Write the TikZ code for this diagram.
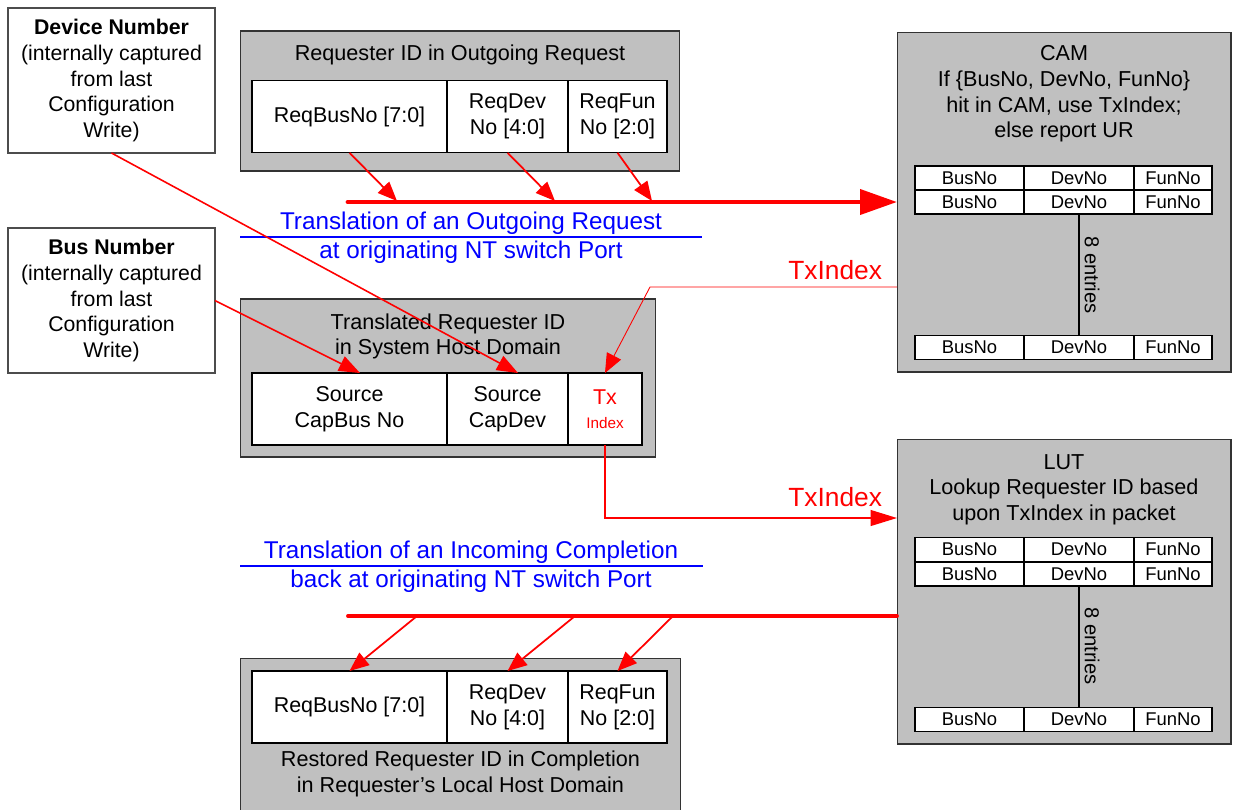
\documentclass[tikz,border=0pt]{standalone}
\usepackage{fontspec}
\setmainfont{Liberation Sans}
\usetikzlibrary{arrows.meta}
\definecolor{boxgray}{HTML}{C0C0C0}
\newcommand{\fsz}[2]{\fontsize{#1}{#2}\selectfont}

\begin{document}
\begin{tikzpicture}[x=0.02cm,y=-0.02cm,
  every node/.style={inner sep=0pt,outer sep=0pt,align=center},
  infobox/.style={draw=black!70,fill=white,line width=0.6pt,minimum width=4.14cm,minimum height=2.9cm,font=\fsz{12.1}{14.75}},
  idbox/.style={draw=black!80,fill=boxgray,line width=0.6pt},
  idcell/.style={draw=black,fill=white,line width=0.6pt,minimum height=1.45cm,font=\fsz{12.2}{14.75}},
  camcell/.style={draw=black,fill=white,line width=0.6pt,minimum height=0.48cm,font=\fsz{10.5}{12}},
  boxtitle/.style={font=\fsz{12.3}{14.6}},
  bluenote/.style={text=blue,font=\fsz{13.8}{16.4}},
  redlabel/.style={text=red,font=\fsz{15}{18},anchor=east},
  busline/.style={draw=red,line width=2.8pt,line cap=round},
  tap/.style={draw=red,line width=1pt,-{Triangle[length=11pt,width=9pt]}},
  feed/.style={draw=red,line width=0.9pt,-{Triangle[length=12pt,width=9pt]}},
  txline/.style={draw=red,line width=0.5pt,-{Triangle[length=11pt,width=9pt]}}]
\useasboundingbox (0,0) rectangle (1233,809);

% captured numbers
\node[infobox] (devnum) at (111.5,80.5) {\textbf{Device Number}\\(internally captured\\from last\\Configuration\\Write)};
\node[infobox] (busnum) at (111.5,300.5) {\textbf{Bus Number}\\(internally captured\\from last\\Configuration\\Write)};

% requester ID in outgoing request
\node[idbox,minimum width=8.8cm,minimum height=2.8cm] (outreq) at (460,101) {};
\node[boxtitle] (outreqtitle) at (460,55) {Requester ID in Outgoing Request};
\node[idcell,minimum width=3.9cm] (oq1) at (349.5,116.5) {ReqBusNo [7:0]};
\node[idcell,minimum width=2.42cm] (oq2) at (507.5,116.5) {ReqDev\\No [4:0]};
\node[idcell,minimum width=1.98cm] (oq3) at (617.5,116.5) {ReqFun\\No [2:0]};

% translated requester ID
\node[idbox,minimum width=8.32cm,minimum height=3.16cm] (trans) at (448,378) {};
\node[boxtitle] (transtitle) at (448,336.5) {Translated Requester ID\\in System Host Domain};
\node[idcell,minimum width=3.9cm,minimum height=1.44cm] (tr1) at (349.5,409) {Source\\CapBus No};
\node[idcell,minimum width=2.42cm,minimum height=1.44cm] (tr2) at (507.5,409) {Source\\CapDev};
\node[idcell,minimum width=1.48cm,minimum height=1.44cm,text=red,font=\fsz{12.2}{13.6}] (tr3) at (605,409) {Tx\\{\fsz{8.7}{13.6}Index}};

% restored requester ID
\node[idbox,minimum width=8.82cm,minimum height=3.08cm] (restored) at (460.5,735) {};
\node[idcell,minimum width=3.9cm,minimum height=1.44cm] (rb1) at (349.5,707) {ReqBusNo [7:0]};
\node[idcell,minimum width=2.42cm,minimum height=1.44cm] (rb2) at (507.5,707) {ReqDev\\No [4:0]};
\node[idcell,minimum width=1.98cm,minimum height=1.44cm] (rb3) at (617.5,707) {ReqFun\\No [2:0]};
\node[boxtitle] (restoredtitle) at (460.5,774) {Restored Requester ID in Completion\\in Requester's Local Host Domain};

% CAM
\node[idbox,minimum width=6.68cm,minimum height=6.8cm] (cam) at (1064,202) {};
\node[boxtitle] (camtitle) at (1064,94) {CAM\\If \{BusNo, DevNo, FunNo\}\\hit in CAM, use TxIndex;\\else report UR};
\node[camcell,minimum width=2.18cm] (cama1) at (969.5,178) {BusNo};
\node[camcell,minimum width=2.2cm] (cama2) at (1079,178) {DevNo};
\node[camcell,minimum width=1.56cm] (cama3) at (1173,178) {FunNo};
\node[camcell,minimum width=2.18cm] (camb1) at (969.5,202) {BusNo};
\node[camcell,minimum width=2.2cm] (camb2) at (1079,202) {DevNo};
\node[camcell,minimum width=1.56cm] (camb3) at (1173,202) {FunNo};
\node[camcell,minimum width=2.18cm] (camc1) at (969.5,347.5) {BusNo};
\node[camcell,minimum width=2.2cm] (camc2) at (1079,347.5) {DevNo};
\node[camcell,minimum width=1.56cm] (camc3) at (1173,347.5) {FunNo};
\draw[line width=0.6pt] (camb2.south) -- (camc2.north);
\node[rotate=-90,font=\fsz{11.5}{13}] (camcount) at (1092,275) {8~entries};

% LUT
\node[idbox,minimum width=6.68cm,minimum height=6.1cm] (lut) at (1064,591.5) {};
\node[boxtitle] (luttitle) at (1064,489.5) {LUT\\Lookup Requester ID based\\upon TxIndex in packet};
\node[camcell,minimum width=2.18cm] (luta1) at (969.5,549.5) {BusNo};
\node[camcell,minimum width=2.2cm] (luta2) at (1079,549.5) {DevNo};
\node[camcell,minimum width=1.56cm] (luta3) at (1173,549.5) {FunNo};
\node[camcell,minimum width=2.18cm] (lutb1) at (969.5,574) {BusNo};
\node[camcell,minimum width=2.2cm] (lutb2) at (1079,574) {DevNo};
\node[camcell,minimum width=1.56cm] (lutb3) at (1173,574) {FunNo};
\node[camcell,minimum width=2.18cm] (lutc1) at (969.5,719.5) {BusNo};
\node[camcell,minimum width=2.2cm] (lutc2) at (1079,719.5) {DevNo};
\node[camcell,minimum width=1.56cm] (lutc3) at (1173,719.5) {FunNo};
\draw[line width=0.6pt] (lutb2.south) -- (lutc2.north);
\node[rotate=-90,font=\fsz{11.5}{13}] (lutcount) at (1092,646) {8~entries};

% notes
\node[bluenote] (outnote) at (471,238) {Translation of an Outgoing Request\\at originating NT switch Port};
\draw[blue,line width=0.6pt] (240,237) -- (702,237);
\node[bluenote] (innote) at (471,566.5) {Translation of an Incoming Completion\\back at originating NT switch Port};
\draw[blue,line width=0.6pt] (240,566) -- (703,566);

% outgoing request path
\coordinate (outstart) at (348,202);
\coordinate (outtap1) at (397,201);
\coordinate (outtap2) at (555,201);
\coordinate (outtap3) at (652,201);
\draw[busline,-{Triangle[length=21pt,width=14pt]}] (outstart) -- (cam.west);
\draw[tap] (oq1.south) -- (outtap1);
\draw[tap] (oq2.south) -- (outtap2);
\draw[tap] (oq3.south) -- (outtap3);

% TxIndex from CAM
\coordinate (camtx) at (897,287);
\coordinate (txbend) at (650,287);
\draw[txline] (camtx) -- (txbend) -- (tr3.north);
\node[redlabel] (txlab1) at (882,270) {TxIndex};

% captured numbers into translated ID
\coordinate (devtip) at (518,373);
\coordinate (bustip) at (360,373);
\draw[feed] (devnum.south) -- (devtip);
\draw[feed] (busnum.east) -- (bustip);

% TxIndex to LUT
\coordinate (lutin) at (897,518);
\draw[feed,-{Triangle[length=15pt,width=9pt]}] (tr3.south) |- (lutin);
\node[redlabel] (txlab2) at (882,497) {TxIndex};

% incoming completion path
\coordinate (lutout) at (897,616);
\coordinate (instart) at (348,616);
\coordinate (intap1) at (417,616);
\coordinate (intap2) at (575,616);
\coordinate (intap3) at (673,616);
\draw[busline,line width=2.2pt] (lutout) -- (instart);
\draw[tap] (intap1) -- (rb1.north);
\draw[tap] (intap2) -- (rb2.north);
\draw[tap] (intap3) -- (rb3.north);
\end{tikzpicture}
\end{document}
